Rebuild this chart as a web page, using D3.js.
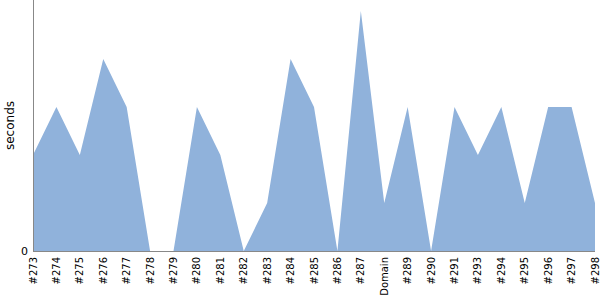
<!DOCTYPE html>
<html>
<head>
<meta charset="utf-8">
<script src="https://cdn.jsdelivr.net/npm/d3@7"></script>
<style>
  body { margin: 0; background: #fff; }
  text { font-family: "DejaVu Sans", sans-serif; }
</style>
</head>
<body>
<div id="chart"></div>
<script>
// Chart data
let builds = ["#273", "#274", "#275", "#276", "#277", "#278", "#279", "#280", "#281",
    "#282", "#283", "#284", "#285", "#286", "#287", "Domain", "#289", "#290", "#291",
    "#293", "#294", "#295", "#296", "#297", "#298"];
let seconds = [2, 3, 2, 4, 3, 0, 0, 3, 2, 0, 1, 4, 3, 0, 5, 1, 3, 0, 3, 2, 3, 1, 3, 3, 1];
let yTicks = [0];

let width = 600;
let height = 300;
let plotLeft = 33, plotRight = 595, plotTop = 11, plotBottom = 251;

let svg = d3.select("#chart")
    .append("svg")
    .attr("width", width)
    .attr("height", height);

let x = d3.scalePoint().domain(builds).range([plotLeft, plotRight]);
let y = d3.scaleLinear().domain([0, 5]).range([plotBottom, plotTop]);

let area = d3.area()
    .x((d, i) => x(builds[i]))
    .y0(y(0))
    .y1((d) => y(d));

svg.append("path")
    .datum(seconds)
    .attr("d", area)
    .attr("fill", "#90b2db");

// axis lines
svg.append("line")
    .attr("x1", plotLeft + 0.5).attr("x2", plotLeft + 0.5)
    .attr("y1", 0).attr("y2", plotBottom)
    .attr("stroke", "#888");
svg.append("line")
    .attr("x1", plotLeft).attr("x2", plotRight)
    .attr("y1", plotBottom + 0.5).attr("y2", plotBottom + 0.5)
    .attr("stroke", "#888");

// y tick labels
svg.selectAll("text.ytick")
    .data(yTicks)
    .join("text")
    .attr("class", "ytick")
    .attr("x", plotLeft - 5)
    .attr("y", (d) => y(d))
    .attr("dy", "0.35em")
    .attr("text-anchor", "end")
    .style("font-size", "11px")
    .text((d) => d);

// y axis title
svg.append("text")
    .attr("transform", "translate(14," + plotBottom / 2 + ") rotate(-90)")
    .attr("text-anchor", "middle")
    .style("font-size", "12px")
    .text("seconds");

// x labels
svg.selectAll("text.xtick")
    .data(builds)
    .join("text")
    .attr("class", "xtick")
    .attr("transform", (d) => "translate(" + x(d) + "," + (plotBottom + 6) + ") rotate(-90)")
    .attr("dy", "0.35em")
    .attr("text-anchor", "end")
    .style("font-size", "10px")
    .text((d) => d);
</script>
</body>
</html>
